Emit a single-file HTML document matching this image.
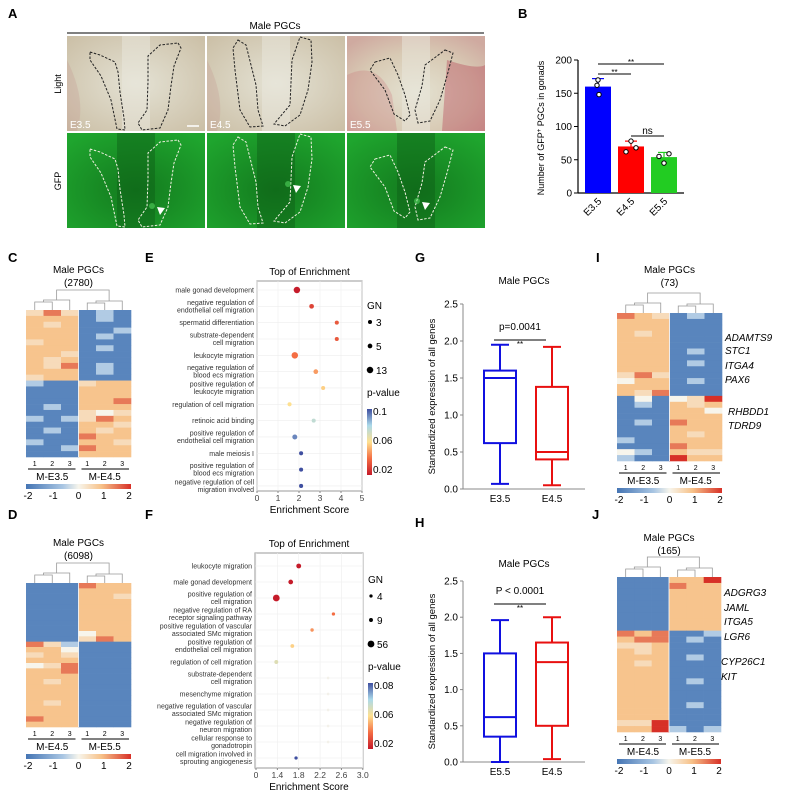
<!DOCTYPE html>
<html><head><meta charset="utf-8">
<style>
html,body{margin:0;padding:0;background:#fff;}
svg{display:block;font-family:"Liberation Sans",Arial,sans-serif;}
</style></head>
<body>
<svg id="fig" width="787" height="797" viewBox="0 0 787 797" xmlns="http://www.w3.org/2000/svg">
<defs>
<radialGradient id="lightG" cx="50%" cy="50%" r="70%"><stop offset="0" stop-color="#e4e2d4"/><stop offset="1" stop-color="#cbbfa6"/></radialGradient>
<radialGradient id="lightG3" cx="50%" cy="60%" r="70%"><stop offset="0" stop-color="#e4e2d2"/><stop offset="0.6" stop-color="#d8cab4"/><stop offset="1" stop-color="#cfaaa0"/></radialGradient>
<radialGradient id="gfpG" cx="50%" cy="60%" r="70%"><stop offset="0" stop-color="#137a1e"/><stop offset="1" stop-color="#1fa52e"/></radialGradient>
<linearGradient id="cbar" x1="0" x2="1" y1="0" y2="0"><stop offset="0" stop-color="#4575b4"/><stop offset="0.35" stop-color="#a9c6e3"/><stop offset="0.5" stop-color="#f7f5ec"/><stop offset="0.72" stop-color="#f7c188"/><stop offset="1" stop-color="#d73027"/></linearGradient>
<linearGradient id="pbar" x1="0" x2="0" y1="0" y2="1"><stop offset="0" stop-color="#3f4fa0"/><stop offset="0.25" stop-color="#abd9e9"/><stop offset="0.5" stop-color="#fee090"/><stop offset="0.75" stop-color="#f46d43"/><stop offset="1" stop-color="#c51b2a"/></linearGradient>
</defs>
<g id="root"></g>
</svg>
<script>
// ---------- data ----------
const bCats = ['E3.5','E4.5','E5.5'];
const bMeans = [160,70,54];
const bErr = [12,8,7];
const bPts1 = [170,162,148];
const bPts2 = [78,62,68];
const bPts3 = [45,55,59];
const bTicks = [0,50,100,150,200];

const gCats = ['E3.5','E4.5'];
const gMin = [0.07,0.05];
const gQ1 = [0.62,0.40];
const gMed = [1.50,0.50];
const gQ3 = [1.60,1.38];
const gMax = [1.95,1.92];
const hCats = ['E5.5','E4.5'];
const hMin = [0.0,0.04];
const hQ1 = [0.35,0.50];
const hMed = [0.62,1.38];
const hQ3 = [1.50,1.65];
const hMax = [1.96,2.00];
const boxTicks = [0,0.5,1.0,1.5,2.0,2.5];

const eTerms = [["male gonad development"],["negative regulation of","endothelial cell migration"],["spermatid differentiation"],["substrate-dependent","cell migration"],["leukocyte migration"],["negative regulation of","blood ecs migration"],["positive regulation of","leukocyte migration"],["regulation of cell migration"],["retinoic acid binding"],["positive regulation of","endothelial cell migration"],["male meiosis I"],["positive regulation of","blood ecs migration"],["negative regulation of cell","migration involved"]];
const eScore = [1.9,2.6,3.8,3.8,1.8,2.8,3.15,1.55,2.7,1.8,2.1,2.1,2.1];
const eGN = [13,5,3,3,13,5,3,3,3,6,3,3,3];
const eP = [0.02,0.03,0.035,0.035,0.04,0.048,0.057,0.06,0.075,0.092,0.1,0.1,0.1];
const eTicks = [0,1,2,3,4,5];

const fTerms = [["leukocyte migration"],["male gonad development"],["positive regulation of","cell migration"],["negative regulation of RA","receptor signaling pathway"],["positive regulation of vascular","associated SMc migration"],["positive regulation of","endothelial cell migration"],["regulation of cell migration"],["substrate-dependent","cell migration"],["mesenchyme migration"],["negative regulation of vascular","associated SMc migration"],["negative regulation of","neuron migration"],["cellular response to","gonadotropin"],["cell migration involved in","sprouting angiogenesis"]];
const fScore = [1.8,1.65,1.38,2.45,2.05,1.68,1.38,2.35,2.35,2.35,2.35,2.35,1.75];
const fGN = [20,18,56,4,5,8,9,1,1,1,1,1,4];
const fP = [0.02,0.02,0.02,0.035,0.04,0.048,0.056,0.061,0.061,0.061,0.061,0.061,0.08];
const fTickVals = [1.0,1.4,1.8,2.2,2.6,3.0];
const fTickLabels = ['0','1.4','1.8','2.2','2.6','3.0'];

const hmC = ["yryblb","oooblb","oyobbb","ooobbl","oooblb","yoobbb","oooblb","ooybbb","oyobbb","oyrblb","oooblb","yoobbb","lbbyoo","bbbooo","bbbooo","bbboor","blbooo","bbbywy","lblyro","bbbooy","blboyo","bbbroo","lbbooy","bblroo","bbbooo"];
const hmD = ["bbbroo","bbbooo","bbbooy","bbbooo","bbbooo","bbbooo","bbbooo","bbbooo","bbbooo","bbbwoo","bbbyro","rylbbb","oowbbb","yoybbb","ooobbb","wyrbbb","oorbbb","ooobbb","oyobbb","ooobbb","ooobbb","ooobbb","oyobbb","ooobbb","ooobbb","roobbb","ooobbb"];
const hmI = ["royblb","ooobbb","ooobbb","oyobbb","ooobbb","ooobbb","oooblb","ooobbb","oooblb","ooobbb","yrybbb","wooblb","ooobbb","oyrbbb","bwbwyR","blboyo","bbboow","bbbooo","blbroo","bbbooo","bbboyo","lbbooo","bbbroo","wlboyy","lbbRoo"];
const hmJ = ["bbbooR","bbbroo","bbbooo","bbbooo","bbbooo","bbbooo","bbbooo","bbbooo","bbbooo","rorbbl","orrblb","yyobbb","oyobbb","oooblb","oyobbb","ooobbb","ooobbb","oooblb","ooobbb","ooobbb","ooobbb","oooblb","ooobbb","ooobbb","yyRbbb","ooRlbl"];
const codeVal = {b:-1.8,c:-1.4,l:-0.9,w:0,y:0.5,o:0.95,r:1.5,R:2};

// ---------- helpers ----------
const NS='http://www.w3.org/2000/svg';
const root=document.getElementById('root');
function mk(tag,attrs,parent){const e=document.createElementNS(NS,tag);for(const k in attrs)e.setAttribute(k,attrs[k]);(parent||root).appendChild(e);return e;}
function txt(x,y,s,attrs,parent){const e=mk('text',Object.assign({x:x,y:y},attrs||{}),parent);e.textContent=s;return e;}
function lerpHex(a,b,t){const pa=[1,3,5].map(i=>parseInt(a.substr(i,2),16)),pb=[1,3,5].map(i=>parseInt(b.substr(i,2),16));return 'rgb('+pa.map((v,i)=>Math.round(v+(pb[i]-v)*t)).join(',')+')';}
function ramp(stops,t){t=Math.max(0,Math.min(1,t));const n=stops.length-1;const i=Math.min(n-1,Math.floor(t*n));return lerpHex(stops[i],stops[i+1],t*n-i);}
function heatColor(v){return ramp(['#4575b4','#a9c6e3','#f7f5ec','#f7c188','#d73027'],(v+2)/4);}

// ---------- panel labels ----------
[['A',8,18],['B',518,18],['C',8,262],['E',145,262],['G',415,262],['I',596,262],['D',8,519],['F',145,519],['H',415,527],['J',592,519]].forEach(p=>{
 const t=txt(p[1],p[2],p[0],{'font-size':'13','font-weight':'bold'});
 
 
});

// ---------- panel A ----------
const gA=mk('g',{});


let t=txt(275,29,'Male PGCs',{'font-size':'10','text-anchor':'middle'},gA);


mk('line',{x1:67,x2:484,y1:33,y2:33,stroke:'#000','stroke-width':1},gA);
t=txt(61,84,'Light',{'font-size':'9','text-anchor':'middle',transform:'rotate(-90 61 84)'},gA);


t=txt(61,181,'GFP',{'font-size':'9','text-anchor':'middle',transform:'rotate(-90 61 181)'},gA);


const colX=[67,207,347];
const stages=['E3.5','E4.5','E5.5'];
const outlines=[
 [["90,52 100,55 115,62 118,72 120,92 124,118 125,130 117,129 111,100 101,76 90,60"],["178,43 181,48 174,66 171,86 168,110 160,128 142,130 138,123 147,110 148,82 148,56 160,45"]],
 [["238,40 246,45 256,85 258,110 263,126 250,127 240,110 235,70 233,48"],["300,37 311,40 312,62 308,90 300,115 285,126 274,124 290,105 292,60"]],
 [["375,62 390,58 398,75 405,95 410,115 405,121 394,114 385,90 370,70"],["445,50 453,53 447,76 440,100 430,121 418,123 415,110 422,86 425,65"]]
];
colX.forEach((x,i)=>{
 const li=mk('rect',{x:x,y:36,width:138,height:95,fill:i==2?'url(#lightG3)':'url(#lightG)'},gA);
 
 
 const gi=mk('rect',{x:x,y:133,width:138,height:95,fill:'url(#gfpG)'},gA);
 
 
 mk('rect',{x:x+55,y:36,width:28,height:95,fill:'#e9e8de',opacity:0.5},gA);
 mk('rect',{x:x+50,y:133,width:38,height:95,fill:'#0d5e16',opacity:0.45},gA);
 if(i==2){mk('path',{d:`M${x} 75 Q${x+30} 60 ${x+45} 95 L${x+50} 131 L${x} 131Z`,fill:'#c35a68',opacity:0.22},gA);
  mk('path',{d:`M${x+100} 60 Q${x+130} 70 ${x+138} 65 L${x+138} 131 L${x+95} 131Z`,fill:'#b3354b',opacity:0.35},gA);}
 else{mk('path',{d:`M${x} 60 Q${x+20} 100 ${x+10} 131 L${x} 131Z`,fill:'#c08080',opacity:0.2},gA);}
 outlines[i].forEach(o=>{
  mk('polygon',{points:o[0],fill:'none',stroke:'#222','stroke-width':1,'stroke-dasharray':'2.5,1.5'},gA);
  const pts=o[0].split(' ').map(p=>{const a=p.split(',');return a[0]+','+(+a[1]+97);}).join(' ');
  mk('polygon',{points:pts,fill:'none',stroke:'#f0f0e0','stroke-width':1,'stroke-dasharray':'2.5,1.5'},gA);
 });
 const lab=txt(x+3,128,stages[i],{'font-size':'10',fill:'#fff'},gA);
 
 
});
mk('line',{x1:187,x2:199,y1:126,y2:126,stroke:'#fff','stroke-width':1.5},gA);
[[160,212],[296,190],[425,207]].forEach((a,i)=>{
 const ar=mk('polygon',{points:`${a[0]-3},${a[1]-5} ${a[0]+5},${a[1]-4} ${a[0]},${a[1]+3}`,fill:'#fff'},gA);
 
 
 mk('circle',{cx:a[0]-8,cy:a[1]-6,r:3,fill:'#5ee86a',opacity:0.5},gA);
});

// ---------- panel B ----------
const gB=mk('g',{});


function yB(v){return 193-v*133/200;}
function xB(i){return 598+i*33;}
mk('line',{x1:578,x2:578,y1:yB(200),y2:yB(0),stroke:'#000','stroke-width':1.2},gB);
mk('line',{x1:578,x2:684,y1:yB(0),y2:yB(0),stroke:'#000','stroke-width':1.2},gB);
bTicks.forEach(v=>{
 mk('line',{x1:574,x2:578,y1:yB(v),y2:yB(v),stroke:'#000'},gB);
 const tl=txt(572,yB(v)+3.5,String(v),{'font-size':'10','text-anchor':'end'},gB);
 
 
});
const yl=mk('text',{x:0,y:0,'font-size':'9','text-anchor':'middle',transform:'translate(544,128) rotate(-90)'},gB);
yl.innerHTML='Number of GFP<tspan dy="-3" font-size="6">+</tspan><tspan dy="3"> PGCs in gonads</tspan>';


const bCols=['#0000ff','#ff0000','#22cc22'];
const bPts=[bPts1,bPts2,bPts3];
bCats.forEach((c,i)=>{
 const bar=mk('rect',{x:xB(i)-13,y:yB(bMeans[i]),width:26,height:yB(0)-yB(bMeans[i]),fill:bCols[i]},gB);
 
 
 mk('line',{x1:xB(i),x2:xB(i),y1:yB(bMeans[i]),y2:yB(bMeans[i]+bErr[i]),stroke:bCols[i],'stroke-width':1.2},gB);
 mk('line',{x1:xB(i)-6,x2:xB(i)+6,y1:yB(bMeans[i]+bErr[i]),y2:yB(bMeans[i]+bErr[i]),stroke:bCols[i],'stroke-width':1.2},gB);
 bPts[i].forEach((p,j)=>{
  const pt=mk('circle',{cx:xB(i)+(j==0?0:(j==1?-5:5))*(i==0?0.2:1),cy:yB(p),r:2.2,fill:'#fff',stroke:'#000','stroke-width':1},gB);
  
  
 });
 const xl=txt(0,0,c,{'font-size':'10','text-anchor':'end',transform:`translate(${xB(i)+4},${yB(0)+9}) rotate(-45)`},gB);
 
 
});
[[0,2,64,'**'],[0,1,74,'**'],[1,2,136,'ns']].forEach((s,k)=>{
 mk('line',{x1:xB(s[0]),x2:xB(s[1]),y1:s[2],y2:s[2],stroke:'#000','stroke-width':1},gB);
 const st=txt((xB(s[0])+xB(s[1]))/2,s[2]-(s[3]=='ns'?2:-1),s[3],{'font-size':s[3]=='ns'?'10':'8','text-anchor':'middle'},gB);
 
 
});

// ---------- heatmaps ----------
function heatmap(rows,x0,x1,y0,y1,name,title,count,tY,groups,bottomY){
 const g=mk('g',{});
 
 
 const cw=(x1-x0)/6, rh=(y1-y0)/rows.length;
 rows.forEach((r,ri)=>{for(let c=0;c<6;c++){
  const cell=mk('rect',{x:x0+c*cw,y:y0+ri*rh,width:cw+0.3,height:rh+0.3,fill:heatColor(codeVal[r[c]])},g);
  
  
 }});
 mk('line',{x1:x0+3*cw,x2:x0+3*cw,y1:y0,y2:y1,stroke:'#fff','stroke-width':0.8},g);
 const dTop=y0-20, dMid=y0-8;
 const cx=c=>x0+(c+0.5)*cw;
 mk('path',{d:`M${cx(0)} ${y0} V${dMid} H${cx(1)} V${y0} M${(cx(0)+cx(1))/2} ${dMid} V${dMid-2} H${cx(2)} V${y0} M${cx(3)} ${y0} V${dMid+1} H${cx(4)} V${y0} M${(cx(3)+cx(4))/2} ${dMid+1} V${dMid-1} H${cx(5)} V${y0} M${(cx(0)+cx(1)+2*cx(2))/4} ${dMid-2} V${dTop} H${(cx(3)+cx(4)+2*cx(5))/4} V${dMid-1}`,fill:'none',stroke:'#999','stroke-width':0.8},g);
 let tt=txt((x0+x1)/2,tY,title,{'font-size':'10','text-anchor':'middle'},g);
 
 
 tt=txt((x0+x1)/2,tY+13,count,{'font-size':'10','text-anchor':'middle'},g);
 
 
 const by=y1+9;
 for(let c=0;c<6;c++){const n=txt(cx(c),by,String(c%3+1),{'font-size':'7','text-anchor':'middle'},g);
  
  }
 mk('line',{x1:x0+2,x2:x0+3*cw-3,y1:by+3,y2:by+3,stroke:'#000','stroke-width':1},g);
 mk('line',{x1:x0+3*cw+3,x2:x1-2,y1:by+3,y2:by+3,stroke:'#000','stroke-width':1},g);
 groups.forEach((gr,k)=>{const gt=txt(x0+(k*3+1.5)*cw,by+14,gr,{'font-size':'10','text-anchor':'middle'},g);
  
  });
 const cb=mk('rect',{x:x0,y:by+18,width:x1-x0,height:5,fill:'url(#cbar)'},g);
 
 
 ['-2','-1','0','1','2'].forEach((v,k)=>{const cl=txt(x0+2+k*(x1-x0-4)/4,by+33,v,{'font-size':'10','text-anchor':'middle'},g);
  
  });
 return g;
}
heatmap(hmC,26,131,310,457,'heatmap-c','Male PGCs','(2780)',273,['M-E3.5','M-E4.5']);
heatmap(hmD,26,131,583,727,'heatmap-d','Male PGCs','(6098)',546,['M-E4.5','M-E5.5']);
const gI=heatmap(hmI,617,722,313,461,'heatmap-i','Male PGCs','(73)',273,['M-E3.5','M-E4.5']);
const gJ=heatmap(hmJ,617,721,577,732,'heatmap-j','Male PGCs','(165)',541,['M-E4.5','M-E5.5']);
[['ADAMTS9',725,341],['STC1',725,354],['ITGA4',725,369],['PAX6',725,383],['RHBDD1',728,415],['TDRD9',728,429]].forEach(gn=>{
 const e=txt(gn[1],gn[2],gn[0],{'font-size':'10','font-style':'italic'},gI);
 
 });
[['ADGRG3',724,596],['JAML',724,611],['ITGA5',724,625],['LGR6',724,640],['CYP26C1',721,665],['KIT',721,680]].forEach(gn=>{
 const e=txt(gn[1],gn[2],gn[0],{'font-size':'10','font-style':'italic'},gJ);
 
 });

// ---------- enrichment plots ----------
function pColor(p,lo,hi){return ramp(['#c51b2a','#f46d43','#fee090','#abd9e9','#3f4fa0'],(p-lo)/(hi-lo));}
function enrich(name,terms,scores,gns,ps,x0,x1,yT,yB_,rowTop,rowStep,xs,tickVals,tickLabels,rFn,pLo,pHi,legGN,legP,legY){
 const g=mk('g',{});
 
 
 let tt=txt((x0+x1)/2,yT-6,'Top of Enrichment',{'font-size':'10','text-anchor':'middle'},g);
 
 
 const frame=mk('rect',{x:x0,y:yT,width:x1-x0,height:yB_-yT,fill:'#fff',stroke:'#aaa','stroke-width':1.2},g);
 
 
 tickVals.forEach((v,k)=>{
  mk('line',{x1:xs(v),x2:xs(v),y1:yT,y2:yB_,stroke:'#eee','stroke-width':0.6},g);
  mk('line',{x1:xs(v),x2:xs(v),y1:yB_,y2:yB_+2,stroke:'#888'},g);
  const tl=txt(xs(v),yB_+10,tickLabels[k],{'font-size':'8.5','text-anchor':'middle',fill:'#444'},g);
  
  
 });
 const xt=txt((x0+x1)/2,yB_+22,'Enrichment Score',{'font-size':'10','text-anchor':'middle'},g);
 
 
 terms.forEach((lines,i)=>{
  const y=rowTop+i*rowStep;
  mk('line',{x1:x0,x2:x1,y1:y,y2:y,stroke:'#eee','stroke-width':0.6},g);
  lines.forEach((ln,k)=>{
   const off=lines.length==1?2.5:(k==0?-1.5:6);
   const lt=txt(x0-3,y+off,ln,{'font-size':'7','text-anchor':'end',fill:'#333'},g);
   
   
  });
  const faint=gns[i]<=1;
  const d=mk('circle',{cx:xs(scores[i]),cy:y,r:rFn(gns[i]),fill:faint?'#f3f1ea':pColor(ps[i],pLo,pHi)},g);
  
  
 });
 const lx=x1+5;
 let lt=txt(lx,legY,'GN',{'font-size':'10'},g);
 
 
 legGN.forEach((v,k)=>{
  const y=legY+16+k*24;
  mk('circle',{cx:lx+3,cy:y-3,r:rFn(v),fill:'#000'},g);
  const l=txt(lx+9,y+1,String(v),{'font-size':'10'},g);
  
  
 });
 const py=legY+87;
 lt=txt(lx,py,'p-value',{'font-size':'10'},g);
 
 
 const pb=mk('rect',{x:lx,y:py+13,width:5,height:66,fill:'url(#pbar)'},g);
 
 
 legP.forEach((v,k)=>{const l=txt(lx+6,py+19+k*29,v,{'font-size':'10'},g);
  
  });
}
enrich('enrichment-e',eTerms,eScore,eGN,eP,257,362,281,491,290,16.33,v=>257+v*21,eTicks,eTicks.map(String),gn=>0.9+0.65*Math.sqrt(gn),0.02,0.1,[3,5,13],['0.1','0.06','0.02'],309);
enrich('enrichment-f',fTerms,fScore,fGN,fP,255,363,553,768,566,16,v=>256+(v-1.0)*53.4,fTickVals,fTickLabels,gn=>1+0.32*Math.sqrt(gn),0.02,0.08,[4,9,56],['0.08','0.06','0.02'],583);

// ---------- box plots ----------
function boxplot(name,cats,mn,q1,md,q3,mx,yTop,yBot,title,titleY,pText,pY,sigY){
 const g=mk('g',{});
 
 
 const ys=v=>yBot-v*(yBot-yTop)/2.5;
 const xs=i=>500+i*52;
 mk('line',{x1:463,x2:463,y1:yTop,y2:yBot,stroke:'#888','stroke-width':1},g);
 mk('line',{x1:463,x2:585,y1:yBot,y2:yBot,stroke:'#888','stroke-width':1},g);
 boxTicks.forEach(v=>{
  mk('line',{x1:460,x2:463,y1:ys(v),y2:ys(v),stroke:'#888'},g);
  const tl=txt(458,ys(v)+3.5,v.toFixed(1),{'font-size':'10','text-anchor':'end'},g);
  
  
 });
 const yl=txt(0,0,'Standardized expression of all genes',{'font-size':'9.5','text-anchor':'middle',transform:`translate(435,${(yTop+yBot)/2}) rotate(-90)`},g);
 
 
 const tt=txt(524,titleY,title,{'font-size':'10','text-anchor':'middle'},g);
 
 
 const cols=['#1010e0','#e81010'];
 cats.forEach((c,i)=>{
  const x=xs(i),col=cols[i];
  const b=mk('rect',{x:x-16,y:ys(q3[i]),width:32,height:ys(q1[i])-ys(q3[i]),fill:'none',stroke:col,'stroke-width':2},g);
  
  
  mk('line',{x1:x-16,x2:x+16,y1:ys(md[i]),y2:ys(md[i]),stroke:col,'stroke-width':2},g);
  mk('line',{x1:x,x2:x,y1:ys(q3[i]),y2:ys(mx[i]),stroke:col,'stroke-width':2},g);
  mk('line',{x1:x,x2:x,y1:ys(q1[i]),y2:ys(mn[i]),stroke:col,'stroke-width':2},g);
  mk('line',{x1:x-9,x2:x+9,y1:ys(mx[i]),y2:ys(mx[i]),stroke:col,'stroke-width':2},g);
  mk('line',{x1:x-9,x2:x+9,y1:ys(mn[i]),y2:ys(mn[i]),stroke:col,'stroke-width':2},g);
  const xl=txt(x,yBot+13,c,{'font-size':'10','text-anchor':'middle'},g);
  
  
 });
 mk('line',{x1:494,x2:546,y1:sigY,y2:sigY,stroke:'#000','stroke-width':1},g);
 let s=txt(520,pY,pText,{'font-size':'10','text-anchor':'middle'},g);
 
 
 s=txt(520,sigY+7,'**',{'font-size':'8','text-anchor':'middle'},g);
 
 
}
boxplot('boxplot-g',gCats,gMin,gQ1,gMed,gQ3,gMax,304,489,'Male PGCs',284,'p=0.0041',330,340);
boxplot('boxplot-h',hCats,hMin,hQ1,hMed,hQ3,hMax,581,762,'Male PGCs',567,'P < 0.0001',594,604);
</script>
</body></html>
